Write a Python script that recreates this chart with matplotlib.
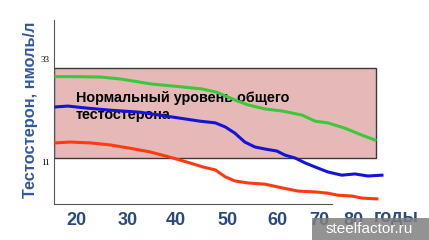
"""Testosterone vs. age chart with the normal-range band."""
import matplotlib
matplotlib.use("Agg")
import matplotlib.pyplot as plt
from matplotlib.patches import Rectangle

# normal range, nmol/l
norm_low, norm_high = 11, 33

green_age = [16, 20, 25, 29, 35, 41, 45, 48, 51.6, 54.2, 57.6, 61, 65, 67.6, 70.1, 73.5, 76.9, 79.5]
green_val = [30.9, 30.9, 30.8, 30.3, 29.1, 28.4, 27.9, 27.1, 25.2, 24.0, 23.0, 22.5, 21.5, 20.0, 19.6, 18.3, 16.6, 15.4]

blue_age = [16, 18.4, 22.2, 26.8, 32.7, 39.3, 44.7, 47.7, 49.7, 51.6, 53.6, 55.6, 57.6, 60,
            61.6, 63.6, 65.6, 67.6, 70.1, 72.9, 75.5, 78.1, 80.9]
blue_val = [23.5, 23.7, 23.2, 22.7, 22.2, 21.0, 20.0, 19.6, 18.6, 17.1, 14.9, 13.7, 13.2, 12.7,
            11.7, 11.0, 9.8, 8.8, 7.6, 6.8, 7.1, 6.6, 6.8]

red_age = [16, 18.8, 22.8, 26.8, 30.7, 34.7, 38.7, 42.1, 45.3, 47.7, 49.7, 51.6, 54.2, 57.6,
           61, 64.2, 67.6, 70.1, 72.1, 74.9, 76.9, 79.9]
red_val = [14.7, 14.9, 14.7, 14.2, 13.4, 12.5, 11.2, 10.0, 8.8, 8.1, 6.4, 5.4, 4.9, 4.6,
           3.7, 2.9, 2.7, 2.4, 1.9, 1.7, 1.2, 1.0]

tick_labels = ["20", "30", "40", "50", "60", "70", "80"]

plt.rcParams["font.family"] = ["Liberation Sans", "DejaVu Sans"]

fig = plt.figure(figsize=(4.29, 2.40), dpi=100)
ax = fig.add_axes([54 / 429, 36 / 240, 336 / 429, 184 / 240])
ax.set_xlim(15.62, 82.5)
ax.set_ylim(-0.25, 44.75)

ax.add_patch(Rectangle((15.62, norm_low), 79.7 - 15.62, norm_high - norm_low,
                       facecolor="#E6B9B8", edgecolor="#3a3a3a", lw=1.0, zorder=1))

ax.plot(green_age, green_val, color="#3CC83C", lw=2.2, zorder=3)
ax.plot(blue_age, blue_val, color="#1414D8", lw=2.2, zorder=3)
ax.plot(red_age, red_val, color="#FF3A10", lw=2.2, zorder=3)

ax.text(20.0, 23.6, "Нормальный уровень общего\nтестостерона", fontsize=10.4,
        fontweight="bold", color="black", va="center", ha="left", linespacing=1.2, zorder=2)

for s in ("top", "right"):
    ax.spines[s].set_visible(False)
ax.spines["left"].set_color("#555555")
ax.spines["bottom"].set_color("#555555")
ax.spines["bottom"].set_bounds(15.62, 70.9)

# x labels sit unevenly in the original slide
ax.set_xticks([20, 30.35, 39.9, 50.2, 60, 68.4, 75.3])
ax.set_xticklabels(tick_labels, fontsize=13, fontweight="bold", color="#2A4A7F")
ax.tick_params(axis="x", length=0, pad=6)
ax.set_yticks([])
ax.text(83.7, -3.6, "годы", fontsize=13, fontweight="bold", color="#2A4A7F",
        ha="center", va="center", clip_on=False)

ax.text(14.8, norm_high + 2.0, str(norm_high), fontsize=6.5, family="Liberation Serif",
        ha="right", va="center")
ax.text(14.8, norm_low - 1.2, str(norm_low), fontsize=6.5, family="Liberation Serif",
        ha="right", va="center")

fig.text(30 / 429, 1 - 110 / 240, "Тестостерон, нмоль/л", rotation=90, fontsize=11.8,
         fontweight="bold", color="#3358A0", ha="center", va="center")

# watermark
fig.patches.append(Rectangle((312 / 429, 0), 117 / 429, 22 / 240, transform=fig.transFigure,
                             facecolor="#808080", alpha=0.85, edgecolor="none", zorder=5))
fig.text(369 / 429, 11 / 240, "steelfactor.ru", fontsize=11, color="white",
         ha="center", va="center", zorder=6)

fig.savefig("out.png", dpi=100)
plt.close(fig)
